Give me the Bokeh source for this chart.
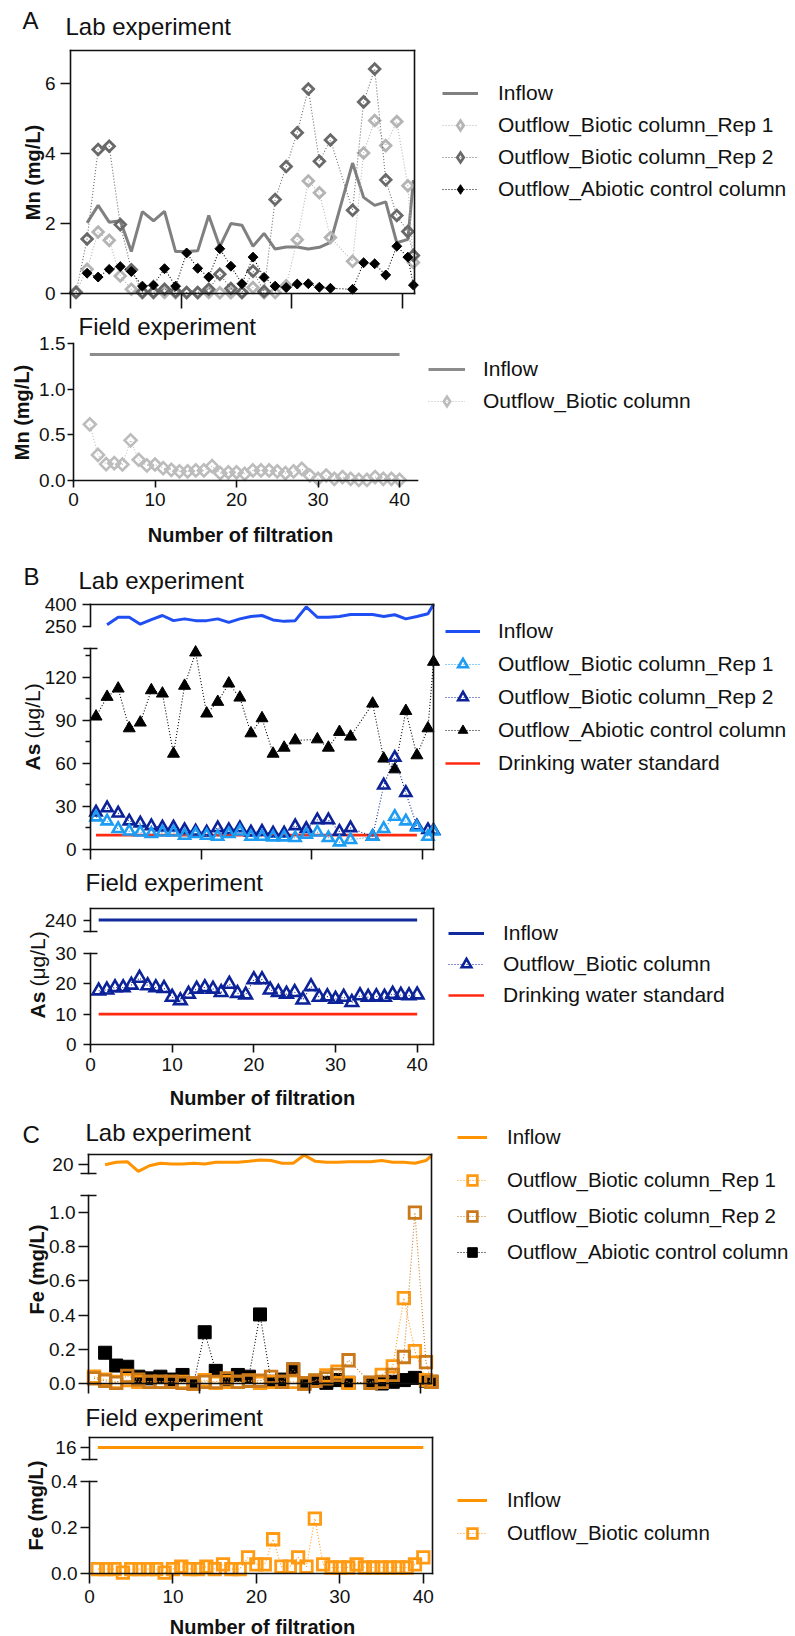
import math
from bokeh.plotting import figure
from bokeh.models import (Range1d, LinearAxis, FixedTicker, NumeralTickFormatter,
                          Label, Legend, LegendItem)
from bokeh.embed import file_html
from bokeh.resources import INLINE

W, H = 795, 1636
FONT = "Liberation Sans"
INK = "#111111"

# ------------------------------------------------------------------ data
# filtration runs of the lab columns (last sampling point at 31)
lab_run = [0.5, 1.5, 2.5, 3.5, 4.5, 5.5, 6.5, 7.5, 8.5, 9.5, 10.5, 11.5, 12.5, 13.5, 14.5, 15.5,
           16.5, 17.5, 18.5, 19.5, 20.5, 21.5, 22.5, 23.5, 24.5, 25.5, 26.5, 27.5, 28.5, 29.5, 30.5, 31.0]
field_run = [1, 2, 3, 4, 5, 6, 7, 8, 9, 10, 11, 12, 13, 14, 15, 16, 17, 18, 19, 20,
             21, 22, 23, 24, 25, 26, 27, 28, 29, 30, 31, 32, 33, 34, 35, 36, 37, 38, 39, 40]

# Mn (mg/L)
mn_lab_inflow = [None, 2.02, 2.52, 2.04, 2.08, 1.20, 2.34, 2.08, 2.35, 1.20, 1.20, 1.22, 2.23, 1.34, 2.00, 1.95,
                 1.35, 1.72, 1.27, 1.33, 1.33, 1.27, 1.32, 1.46, None, 3.73, 2.75, 2.52, 2.62, 1.45, 1.55, 3.24]
mn_lab_rep1 = [0.05, 0.69, 1.76, 1.52, 0.50, 0.12, 0.02, 0.02, 0.03, 0.02, 0.02, 0.02, 0.03, 0.02, 0.02, 0.03,
               0.17, 0.02, 0.03, 0.22, 1.54, 3.22, 2.88, 1.60, None, 0.92, 4.02, 4.95, 4.23, 4.92, 3.08, 0.89]
mn_lab_rep2 = [0.03, 1.56, 4.12, 4.21, 1.97, 0.68, 0.04, 0.04, 0.12, 0.05, 0.03, 0.03, 0.12, 0.55, 0.14, 0.03,
               0.64, 0.06, 2.69, 3.63, 4.60, 5.85, 3.78, 4.39, None, 2.38, 5.48, 6.42, 3.25, 2.23, 1.77, 1.09]
mn_lab_abiotic = [None, 0.58, 0.47, 0.69, 0.77, 0.63, 0.21, 0.24, 0.71, 0.21, 1.16, 0.72, 0.47, 1.28, 0.78, 0.28,
                  1.04, 0.46, 0.21, 0.17, 0.27, 0.28, 0.18, 0.15, None, 0.12, 0.88, 0.85, 0.53, 1.35, 1.04, 0.24]
mn_field_inflow = 1.38
mn_field_inflow_runs = [2, 40]
mn_field_outflow = [None, 0.615, 0.28, 0.18, 0.19, 0.175, 0.44, 0.227, 0.165, 0.175, 0.135, 0.117, 0.10, 0.10,
                    0.11, 0.11, 0.157, 0.08, 0.09, 0.09, 0.073, 0.11, 0.11, 0.11, 0.10, 0.08, 0.10, 0.128,
                    0.055, 0.018, 0.055, 0.018, 0.037, 0.018, 0.007, 0.007, 0.037, 0.018, 0.018, 0.007]

# As (ug/L)
as_lab_inflow = [None, 262, 313, 313, 266, 297, 325, 290, 302, 290, 290, 302, 278, 302, 318, 325,
                 295, 285, 290, 384, 313, 313, 318, 332, 332, 332, 318, 330, 302, 318, 337, 400]
as_lab_rep1 = [22.5, 19.7, 14.4, 12.7, 12.0, 10.9, 12.0, 12.0, 9.7, 10.9, 9.7, 9.0, 10.9, 12.7, 9.0, 9.0,
               8.6, 8.6, 8.1, 10.4, 12.0, 8.1, 5.1, 6.7, None, 9.0, 14.4, 22.9, 19.7, 15.5, 9.0, 12.7]
as_lab_rep2 = [25.9, 28.9, 25.2, 19.7, 18.3, 16.4, 15.5, 15.5, 13.7, 12.7, 12.0, 15.0, 13.7, 15.0, 12.0, 12.5,
               11.3, 11.3, 16.4, 14.4, 20.6, 20.6, 12.5, 15.0, None, 9.0, 44.7, 64.0, 39.5, 16.3, 13.7, 13.2]
as_lab_abiotic = [92.6, 106.3, 112.1, 84.4, 88.4, 110.9, 108.6, 66.7, 114.0, 137.2, 94.7, 102.8, 115.6, 105.8,
                  80.9, 91.4, 66.7, 70.9, 76.0, None, 76.7, 70.9, 81.9, 78.6, None, 101.6, 63.3, 55.8, 96.5,
                  65.6, 84.4, 130.7]
as_standard = 10
as_lab_standard_runs = [0.5, 29.5]
as_field_inflow = 240
as_field_runs = [1, 40]
as_field_outflow = [17.7, 18.0, 18.8, 18.8, 19.6, 21.9, 19.4, 18.8, 18.5, 15.6, 14.5, 16.6, 18.3, 18.8, 18.3,
                    17.2, 19.9, 16.9, 16.4, 21.4, 21.4, 18.0, 17.2, 16.6, 17.2, 14.7, 19.1, 15.6, 15.8, 15.0,
                    15.6, 13.9, 16.1, 15.6, 15.8, 15.6, 16.6, 16.3, 16.1, 16.4]

# Fe (mg/L)
fe_lab_inflow = [None, 19.6, 20.9, 21.2, 16.1, 19.1, 20.4, 20.0, 20.0, 20.4, 20.0, 20.9, 20.9, 20.9, 21.4, 22.1,
                 21.8, 20.4, 20.4, 24.7, 21.4, 20.9, 20.9, 21.2, 21.2, 21.2, 21.8, 20.9, 20.9, 20.4, 21.8, 24.4]
fe_lab_rep1 = [0.04, 0.023, 0.01, 0.02, 0.01, 0.01, 0.01, 0.01, 0.01, 0.0, 0.02, 0.004, 0.01, 0.01, 0.016, 0.004,
               0.01, 0.01, 0.01, 0.0, 0.016, 0.047, 0.07, 0.004, None, 0.004, 0.05, 0.10, 0.50, 0.19, 0.02, 0.01]
fe_lab_rep2 = [0.03, 0.015, 0.004, 0.045, 0.023, 0.01, 0.01, 0.01, 0.004, 0.0, 0.01, 0.01, 0.03, 0.01, 0.016,
               0.016, 0.039, 0.01, 0.082, 0.0, 0.016, 0.03, 0.05, 0.136, None, 0.004, 0.01, 0.05, 0.155, 1.0,
               0.125, 0.01]
fe_lab_abiotic = [None, 0.18, 0.105, 0.098, 0.04, 0.03, 0.04, 0.023, 0.05, 0.0, 0.30, 0.074, 0.023, 0.05, 0.04,
                  0.404, 0.01, 0.023, 0.082, 0.0, 0.016, 0.004, 0.02, 0.004, None, 0.004, 0.0, 0.01, 0.02,
                  0.033, 0.016, 0.01]
fe_field_inflow = 16
fe_field_runs = [1, 40]
fe_field_outflow = [0.019, 0.019, 0.019, 0.004, 0.019, 0.019, 0.019, 0.019, 0.004, 0.019, 0.03, 0.019, 0.019,
                    0.03, 0.019, 0.04, 0.019, 0.019, 0.07, 0.04, 0.04, 0.149, 0.03, 0.03, 0.07, 0.03, 0.239,
                    0.04, 0.026, 0.026, 0.026, 0.04, 0.026, 0.026, 0.026, 0.026, 0.026, 0.026, 0.04, 0.07]

# ------------------------------------------------------------------ canvas
# One canvas holds all six panels; every panel gets its own pair of ranges.
p = figure(width=W, height=H, x_range=Range1d(0, W), y_range=Range1d(H, 0),
           x_axis_type=None, y_axis_type=None, toolbar_location=None,
           output_backend="svg", min_border=0)
p.title.visible = False
p.outline_line_color = None
p.background_fill_color = "white"
p.border_fill_color = "white"


def scale(kind, name, v0, v1, p0, p1):
    """Range whose values v0, v1 land on canvas pixels p0, p1."""
    s = (v1 - v0) / (p1 - p0)

    def at(px):
        return v0 + (px - p0) * s

    if kind == "x":
        p.extra_x_ranges[name] = Range1d(start=at(0), end=at(W))
    else:
        p.extra_y_ranges[name] = Range1d(start=at(H), end=at(0))
    return at


def axis(side, xr, yr, loc, ticks=(), bounds="auto", out=8, inn=0, labels=False,
         standoff=5, minor=(), minor_out=4, fmt=None, line=True):
    ax = LinearAxis(x_range_name=xr, y_range_name=yr, fixed_location=loc, bounds=bounds,
                    ticker=FixedTicker(ticks=list(ticks), minor_ticks=list(minor)),
                    axis_line_color=INK if line else None, axis_line_width=1.6, axis_line_cap="square",
                    major_tick_line_color=INK, major_tick_line_width=1.6,
                    major_tick_out=out, major_tick_in=inn,
                    minor_tick_line_color=INK, minor_tick_line_width=1.4,
                    minor_tick_out=minor_out, minor_tick_in=0,
                    major_label_standoff=standoff,
                    major_label_text_font=FONT, major_label_text_font_size="19px",
                    major_label_text_color=INK if labels else None)
    if fmt:
        ax.formatter = NumeralTickFormatter(format=fmt)
    p.add_layout(ax, side)


def present(xs, ys):
    keep = [(x, y) for x, y in zip(xs, ys) if y is not None]
    return [k[0] for k in keep], [k[1] for k in keep]


def solid(xs, ys, xr, yr, color, lw=3.0):
    x, y = present(xs, ys)
    return [p.line(x, y, x_range_name=xr, y_range_name=yr, line_color=color, line_width=lw)]


def level(runs, val, xr, yr, color, lw=3.0):
    return [p.line(runs, [val, val], x_range_name=xr, y_range_name=yr, line_color=color, line_width=lw)]


def dotted(xs, ys, xr, yr, color, marker, size, hollow=True, lw=2.8, diamond=False):
    """Dotted connector plus markers; returns the renderers shown in the legend."""
    x, y = present(xs, ys)
    style = dict(line_color=color, line_width=lw if hollow else 1.0, line_join="miter",
                 fill_color=None if hollow else color)
    link = p.line(x, y, x_range_name=xr, y_range_name=yr, line_color=color,
                  line_width=1.1, line_dash="1 2")
    if diamond:
        # data diamonds are squares turned by 45 degrees
        p.scatter(x, y, x_range_name=xr, y_range_name=yr, marker="square", size=size,
                  angle=math.pi / 4, **style)
        # legend swatch: zero-size diamonds on the same points (legend glyphs are drawn unrotated)
        swatch = p.scatter(x, y, x_range_name=xr, y_range_name=yr, marker="diamond", size=0, **style)
        return [link, swatch]
    dots = p.scatter(x, y, x_range_name=xr, y_range_name=yr, marker=marker, size=size, **style)
    return [link, dots]


def legend(entries, x_left, y_first, step, glyph_w=36, standoff=20, h=24, size="21px"):
    items = [LegendItem(label=lbl, renderers=rs) for lbl, rs in entries]
    n = len(items)
    spacing = int(round(step - h))
    top = y_first - h / 2
    bottom = top + n * h + (n - 1) * spacing
    lg = Legend(items=items, location=(x_left, H - bottom), orientation="vertical",
                padding=0, margin=0, spacing=spacing, glyph_width=glyph_w, glyph_height=h,
                label_height=h, label_standoff=standoff, label_text_font=FONT,
                label_text_font_size=size, label_text_color=INK,
                background_fill_alpha=0, border_line_alpha=0)
    p.add_layout(lg, "center")


def text(x, y, s, size="24px", bold=False, align="left", angle=0.0):
    p.add_layout(Label(x=x, y=y, text=s, text_font=FONT, text_font_size=size,
                       text_font_style="bold" if bold else "normal", text_color=INK,
                       text_align=align, text_baseline="middle", angle=angle))


UP = math.pi / 2

# ------------------------------------------------------------------ A: manganese, lab
scale("x", "mnl_x", 0, 31.1, 70, 414)
scale("y", "mnl_y", 0, 6.95, 293, 50)
axis("left", "mnl_x", "mnl_y", 0, ticks=[0, 2, 4, 6], bounds=(0, 6.95), out=10, labels=True, standoff=5)
axis("below", "mnl_x", "mnl_y", 0, ticks=[0, 10, 20, 30], bounds=(0, 31.1), out=15)
axis("above", "mnl_x", "mnl_y", 6.95, bounds=(0, 31.1))
axis("right", "mnl_x", "mnl_y", 31.1, bounds=(0, 6.95))

r_in = solid(lab_run, mn_lab_inflow, "mnl_x", "mnl_y", "#808080")
r_1 = dotted(lab_run, mn_lab_rep1, "mnl_x", "mnl_y", "#b4b4b4", None, 7.5, diamond=True)
r_2 = dotted(lab_run, mn_lab_rep2, "mnl_x", "mnl_y", "#696969", None, 7.5, diamond=True)
r_ab = dotted(lab_run, mn_lab_abiotic, "mnl_x", "mnl_y", "#000000", None, 7, hollow=False, diamond=True)
legend([("Inflow", r_in), ("Outflow_Biotic column_Rep 1", r_1),
        ("Outflow_Biotic column_Rep 2", r_2), ("Outflow_Abiotic control column", r_ab)],
       442, 93, 31.7, glyph_w=36, standoff=20)

text(22, 20, "A")
text(65, 25.5, "Lab experiment")
text(32, 172, "Mn (mg/L)", size="20px", bold=True, align="center", angle=UP)

# ------------------------------------------------------------------ A: manganese, field
scale("x", "mnf_x", 0, 42.2, 73, 417)
scale("y", "mnf_y", 0, 1.5, 480, 343)
axis("left", "mnf_x", "mnf_y", 0, ticks=[0, 0.5, 1.0, 1.5], bounds=(0, 1.5), out=6, labels=True,
     standoff=2, fmt="0.0")
axis("below", "mnf_x", "mnf_y", 0, ticks=[0, 10, 20, 30, 40], bounds=(0, 42.2), out=7, labels=True, standoff=5)

f_in = level(mn_field_inflow_runs, mn_field_inflow, "mnf_x", "mnf_y", "#8c8c8c")
f_out = dotted(field_run, mn_field_outflow, "mnf_x", "mnf_y", "#bcbcbc", None, 8.5, lw=2.6, diamond=True)
legend([("Inflow", f_in), ("Outflow_Biotic column", f_out)], 428, 369, 32, glyph_w=37, standoff=18)

text(78, 325.5, "Field experiment")
text(21, 412, "Mn (mg/L)", size="20px", bold=True, align="center", angle=UP)
text(240, 534, "Number of filtration", size="20px", bold=True, align="center")

# ------------------------------------------------------------------ B: arsenic, lab
scale("x", "asl_x", 0, 31, 90, 433)
asl_at = scale("y", "asl_y", 0, 140, 849, 648)
scale("y", "asl_yt", 250, 400, 626, 604)
axis("left", "asl_x", "asl_y", 0, ticks=[0, 30, 60, 90, 120], minor=[15, 45, 75, 105, 135],
     bounds=(0, 140), out=8, labels=True, standoff=6, minor_out=5)
axis("left", "asl_x", "asl_y", 0, ticks=[140], out=7, inn=7, line=False)
axis("left", "asl_x", "asl_yt", 0, ticks=[250, 400], bounds=(250, 400), out=8, labels=True, standoff=6)
axis("below", "asl_x", "asl_y", 0, ticks=[0, 10, 20, 30], bounds=(0, 31), out=10)
axis("above", "asl_x", "asl_yt", 400, bounds=(0, 31))
axis("right", "asl_x", "asl_y", 31, bounds=(0, asl_at(604)))

b_std = level(as_lab_standard_runs, as_standard, "asl_x", "asl_y", "#ff2a10", lw=2.6)
b_in = solid(lab_run, as_lab_inflow, "asl_x", "asl_yt", "#1f4ff2")
b_ab = dotted(lab_run, as_lab_abiotic, "asl_x", "asl_y", "#000000", "triangle", 12, hollow=False)
b_2 = dotted(lab_run, as_lab_rep2, "asl_x", "asl_y", "#0c2299", "triangle", 11, lw=2.6)
b_1 = dotted(lab_run, as_lab_rep1, "asl_x", "asl_y", "#1c9cf2", "triangle", 11, lw=2.6)
legend([("Inflow", b_in), ("Outflow_Biotic column_Rep 1", b_1), ("Outflow_Biotic column_Rep 2", b_2),
        ("Outflow_Abiotic control column", b_ab), ("Drinking water standard", b_std)],
       445, 631, 32.7, glyph_w=35, standoff=18)

text(23, 575.5, "B")
text(78, 580, "Lab experiment")
text(31.5, 770, "As", size="21px", bold=True, angle=UP)
text(31.5, 738, "(\u03bcg/L)", size="21px", angle=UP)

# ------------------------------------------------------------------ B: arsenic, field
scale("x", "asf_x", 0, 42, 90, 433)
asf_at = scale("y", "asf_y", 0, 30, 1044, 953)
scale("y", "asf_yt", 230, 250, 931, 908)
axis("left", "asf_x", "asf_y", 0, ticks=[0, 10, 20, 30], bounds=(0, 30), out=7, labels=True, standoff=7)
axis("left", "asf_x", "asf_y", 0, ticks=[30], out=0, inn=7, line=False)
axis("left", "asf_x", "asf_yt", 0, ticks=[240], bounds=(230, 250), out=7, labels=True, standoff=7)
axis("left", "asf_x", "asf_yt", 0, ticks=[230], out=7, inn=7, line=False)
axis("below", "asf_x", "asf_y", 0, ticks=[0, 10, 20, 30, 40], bounds=(0, 42), out=8, labels=True, standoff=5)
axis("above", "asf_x", "asf_yt", 250, bounds=(0, 42))
axis("right", "asf_x", "asf_y", 42, bounds=(0, asf_at(908)))

g_std = level(as_field_runs, as_standard, "asf_x", "asf_y", "#ff2a10", lw=2.6)
g_in = level(as_field_runs, as_field_inflow, "asf_x", "asf_yt", "#112a9c")
g_out = dotted(field_run, as_field_outflow, "asf_x", "asf_y", "#0c2299", "triangle", 12.5, lw=2.6)
legend([("Inflow", g_in), ("Outflow_Biotic column", g_out), ("Drinking water standard", g_std)],
       448, 933, 31, glyph_w=36, standoff=19)

text(85, 882, "Field experiment")
text(37, 1018, "As", size="21px", bold=True, angle=UP)
text(37, 986, "(\u03bcg/L)", size="21px", angle=UP)
text(262, 1097.5, "Number of filtration", size="20px", bold=True, align="center")

# ------------------------------------------------------------------ C: iron, lab
scale("x", "fel_x", 0, 31, 88, 431)
fel_at = scale("y", "fel_y", 0, 1.1, 1383, 1195)
scale("y", "fel_yt", 15, 25, 1173, 1154)
axis("left", "fel_x", "fel_y", 0, ticks=[0, 0.2, 0.4, 0.6, 0.8, 1.0], bounds=(0, 1.1), out=10,
     labels=True, standoff=3, fmt="0.0")
axis("left", "fel_x", "fel_y", 0, ticks=[1.1], out=8, inn=8, line=False)
axis("left", "fel_x", "fel_yt", 0, ticks=[20], bounds=(15, 25), out=10, labels=True, standoff=5)
axis("left", "fel_x", "fel_yt", 0, ticks=[15], out=8, inn=8, line=False)
axis("below", "fel_x", "fel_y", 0, ticks=[0, 10, 20, 30], bounds=(0, 31), out=10)
axis("above", "fel_x", "fel_yt", 25, bounds=(0, 31))
axis("right", "fel_x", "fel_y", 31, bounds=(0, fel_at(1154)))

c_in = solid(lab_run, fe_lab_inflow, "fel_x", "fel_yt", "#ff9300")
c_ab = dotted(lab_run, fe_lab_abiotic, "fel_x", "fel_y", "#000000", "square", 13, hollow=False)
c_1 = dotted(lab_run, fe_lab_rep1, "fel_x", "fel_y", "#ff9a12", "square", 11.5, lw=2.8)
c_2 = dotted(lab_run, fe_lab_rep2, "fel_x", "fel_y", "#c9781a", "square", 11.5, lw=2.8)
legend([("Inflow", c_in)], 457, 1137, 36.5, glyph_w=30, standoff=20, size="20.5px")
legend([("Outflow_Biotic column_Rep 1", c_1), ("Outflow_Biotic column_Rep 2", c_2),
        ("Outflow_Abiotic control column", c_ab)], 457, 1180, 36.5, glyph_w=30, standoff=20, size="20.5px")

text(22, 1134, "C")
text(85, 1131.5, "Lab experiment")
text(36, 1269, "Fe (mg/L)", size="20px", bold=True, align="center", angle=UP)

# ------------------------------------------------------------------ C: iron, field
scale("x", "fef_x", 0, 41.1, 89, 432)
fef_at = scale("y", "fef_y", 0, 0.4, 1573, 1481)
scale("y", "fef_yt", 13.6, 18, 1459, 1437)
axis("left", "fef_x", "fef_y", 0, ticks=[0, 0.2, 0.4], bounds=(0, 0.4), out=9, labels=True,
     standoff=3, fmt="0.0")
axis("left", "fef_x", "fef_y", 0, ticks=[0.4], out=0, inn=8, line=False)
axis("left", "fef_x", "fef_yt", 0, ticks=[16], bounds=(13.6, 18), out=9, labels=True, standoff=4)
axis("left", "fef_x", "fef_yt", 0, ticks=[13.6], out=8, inn=8, line=False)
axis("below", "fef_x", "fef_y", 0, ticks=[0, 10, 20, 30, 40], bounds=(0, 41.1), out=10, labels=True, standoff=6)
axis("above", "fef_x", "fef_yt", 18, bounds=(0, 41.1))
axis("right", "fef_x", "fef_y", 41.1, bounds=(0, fef_at(1437)))

h_in = level(fe_field_runs, fe_field_inflow, "fef_x", "fef_yt", "#ff9300")
h_out = dotted(field_run, fe_field_outflow, "fef_x", "fef_y", "#ff9a12", "square", 11.5, lw=2.8)
legend([("Inflow", h_in), ("Outflow_Biotic column", h_out)], 457, 1500, 33, glyph_w=30, standoff=20,
       size="20.5px")

text(85, 1416.5, "Field experiment")
text(35, 1505, "Fe (mg/L)", size="20px", bold=True, align="center", angle=UP)
text(262, 1626, "Number of filtration", size="20px", bold=True, align="center")

open("out.html", "w").write(file_html(p, INLINE))
